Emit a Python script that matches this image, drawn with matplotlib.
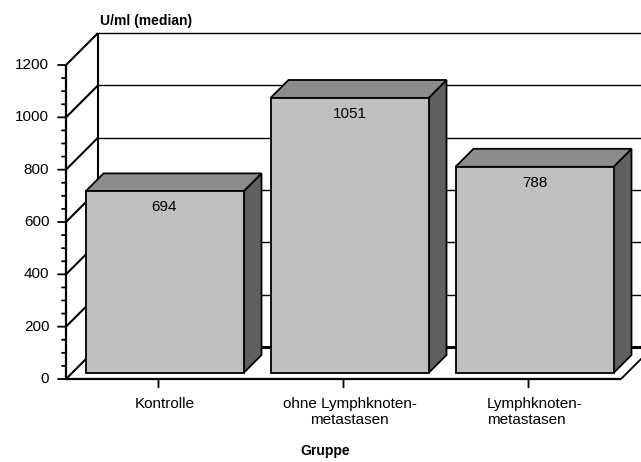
import matplotlib.pyplot as plt
from matplotlib.patches import Polygon

plt.rcParams['font.family'] = ['Liberation Sans', 'DejaVu Sans']

# Werte je Gruppe (U/ml, Median)
gruppen = ['Kontrolle', 'ohne Lymphknoten-\nmetastasen', 'Lymphknoten-\nmetastasen']
median = [694, 1051, 788]
yticks = [0, 200, 400, 600, 800, 1000, 1200]

fig = plt.figure(figsize=(6.41, 4.62), dpi=100)
W, H = 641, 462
# front frame of the 3d box: x 66..621 px, y 65..379 px
ax = fig.add_axes([66 / W, (H - 379) / H, 555 / W, 314 / H])
ax.set_xlim(0, len(gruppen))
ax.set_ylim(0, 1200)
ax.axis('off')

p0 = ax.transData.transform((0, 0))
p1 = ax.transData.transform((1, 1))
px_x = p1[0] - p0[0]
px_y = p1[1] - p0[1]


def off(x, y, px):
    # shift a point backwards into the depth by px pixels
    return (x + px / px_x, y + px / px_y)


DEPTH = 32      # wall depth
B_OFF = 6       # bar front face behind the front edge
B_DEP = 18      # bar depth
nx = len(gruppen)
kw = dict(color='black', clip_on=False, solid_capstyle='butt', zorder=0.5)

# back wall gridlines
for v in yticks[1:]:
    a = off(0, v, DEPTH)
    b = off(nx, v, DEPTH)
    ax.plot([a[0], b[0]], [a[1], b[1]], lw=1.0, **kw)
# back floor edge
a = off(0, 0, DEPTH)
b = off(nx, 0, DEPTH)
ax.plot([a[0], b[0]], [a[1], b[1]], lw=2.2, **kw)
# back wall left edge
a = off(0, 0, DEPTH)
b = off(0, 1200, DEPTH)
ax.plot([a[0], b[0]], [a[1], b[1]], lw=1.5, **kw)
# side wall diagonals
for v in yticks:
    a = off(0, v, DEPTH)
    ax.plot([0, a[0]], [v, a[1]], lw=1.5, **kw)
a = off(nx, 0, DEPTH)
ax.plot([nx, a[0]], [0, a[1]], lw=1.3, **kw)

# bars
bw = 158 / 185
for i, v in enumerate(median):
    x0 = i + (1 - bw) / 2
    x1 = x0 + bw
    front = [off(x0, 0, B_OFF), off(x1, 0, B_OFF), off(x1, v, B_OFF), off(x0, v, B_OFF)]
    top = [off(x0, v, B_OFF), off(x1, v, B_OFF),
           off(x1, v, B_OFF + B_DEP), off(x0, v, B_OFF + B_DEP)]
    side = [off(x1, 0, B_OFF), off(x1, 0, B_OFF + B_DEP),
            off(x1, v, B_OFF + B_DEP), off(x1, v, B_OFF)]
    for pts, c in [(side, '#606060'), (top, '#8c8c8c'), (front, '#c0c0c0')]:
        ax.add_patch(Polygon(pts, closed=True, facecolor=c, edgecolor='black',
                             lw=1.3, joinstyle='miter', clip_on=False, zorder=2))
    cx, cy = off((x0 + x1) / 2, v, B_OFF)
    ax.annotate(str(v), (cx, cy), xytext=(0, -11.5), textcoords='offset points',
                ha='center', va='center', fontsize=11, zorder=4)

# floor front edge and value axis
kw['zorder'] = 3
ax.plot([0, nx], [0, 0], lw=1.6, **kw)
ax.plot([0, 0], [0, 1200], lw=1.6, **kw)
for v in range(0, 1201, 50):
    ln = 8 if v % 200 == 0 else 4
    ax.annotate('', (0, v), xytext=(-ln * 0.72, 0), textcoords='offset points',
                arrowprops=dict(arrowstyle='-', lw=1.3, color='black',
                                shrinkA=0, shrinkB=0), annotation_clip=False)
for v in yticks:
    ax.annotate(str(v), (0, v), xytext=(-12, 0), textcoords='offset points',
                ha='right', va='center', fontsize=11)

# category ticks and labels
for i, g in enumerate(gruppen):
    ax.annotate('', (i + 0.5, 0), xytext=(0, -6), textcoords='offset points',
                arrowprops=dict(arrowstyle='-', lw=1.3, color='black',
                                shrinkA=0, shrinkB=0), annotation_clip=False)
    lx = off(i + 0.5, 0, B_OFF)[0]
    ax.annotate(g, (lx, 0), xytext=(0, -13), textcoords='offset points',
                ha='center', va='top', fontsize=11, linespacing=1.15,
                multialignment='left' if i == 2 else 'center')

fig.text(100 / W, 1 - 21 / H, 'U/ml (median)', ha='left', va='center',
         fontsize=10, fontweight='bold')
fig.text(325 / W, 1 - 451 / H, 'Gruppe', ha='center', va='center',
         fontsize=10, fontweight='bold')

fig.savefig('out.png', dpi=100)
